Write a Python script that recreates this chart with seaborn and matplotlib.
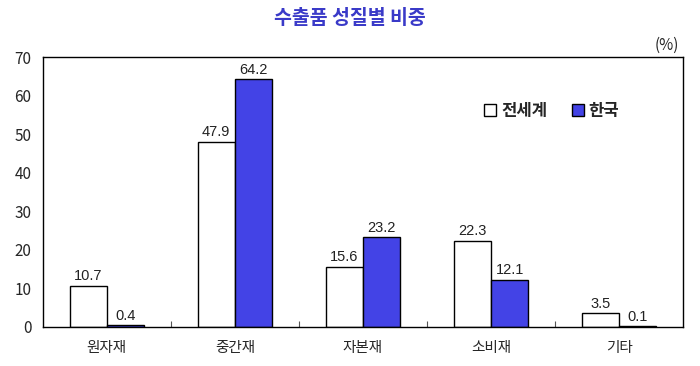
import pandas as pd
import matplotlib.pyplot as plt
import seaborn as sns
from matplotlib.ticker import FixedLocator

# data
categories = ["원자재", "중간재", "자본재", "소비재", "기타"]
world = [10.7, 47.9, 15.6, 22.3, 3.5]
korea = [0.4, 64.2, 23.2, 12.1, 0.1]
series_names = ["전세계", "한국"]

df = pd.DataFrame({
    "category": categories * 2,
    "value": world + korea,
    "series": [series_names[0]] * 5 + [series_names[1]] * 5,
})

sns.set_theme(style="white")
plt.rcParams['font.family'] = ['Noto Sans CJK KR', 'DejaVu Sans']

fig = plt.figure(figsize=(7, 3.66), dpi=100)
ax = fig.add_axes([0.061, 0.107, 0.915, 0.737])

sns.barplot(data=df, x="category", y="value", hue="series", order=categories,
            hue_order=series_names, palette=["white", "#4343E6"], width=0.58,
            saturation=1, edgecolor="black", linewidth=1.0, ax=ax, legend=True)

for cont in ax.containers:
    ax.bar_label(cont, fmt="%.1f", padding=2, fontsize=10.5, color="#222222",
                 family=['Liberation Sans', 'DejaVu Sans'])

ax.set_ylim(0, 70)
ax.set_xlim(-0.5, 4.5)
ax.set_yticks(range(0, 71, 10))
ax.set_xlabel("")
ax.set_ylabel("")
ax.tick_params(axis="y", length=0, labelsize=11, pad=8)
ax.tick_params(axis="x", which="major", length=0, labelsize=10.5, pad=10)
ax.xaxis.set_minor_locator(FixedLocator([0.5, 1.5, 2.5, 3.5]))
ax.tick_params(axis="x", which="minor", direction="in", length=4, width=0.8,
               color="#555555", bottom=True)
for s in ax.spines.values():
    s.set_color("black")
    s.set_linewidth(1.0)

leg = ax.legend(loc="center", bbox_to_anchor=(0.795, 0.80), ncol=2, frameon=False,
                handlelength=0.7, handleheight=0.7, handletextpad=0.3,
                columnspacing=1.5, prop={"size": 12, "weight": "bold"})

fig.text(0.5, 0.95, "수출품 성질별 비중", ha="center", va="center",
         fontsize=14, fontweight="bold", color="#3A3AC8")
fig.text(0.952, 0.875, "(%)", ha="center", va="center", fontsize=11)

fig.savefig("out.png", dpi=100)
